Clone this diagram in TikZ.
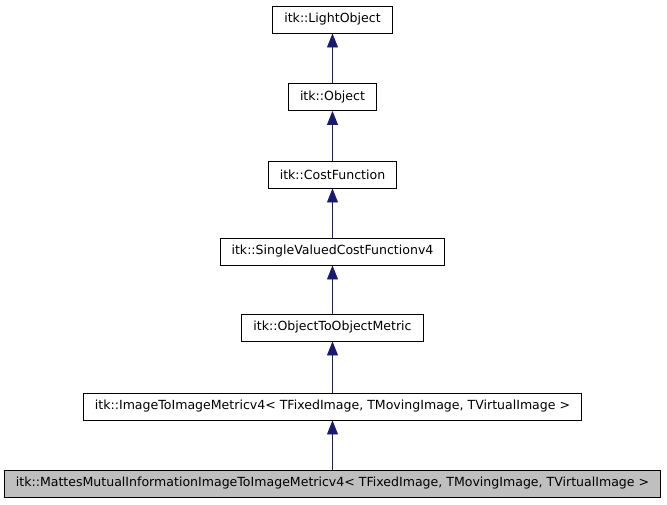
\documentclass[tikz,border=0pt]{standalone}
\usepackage{fontspec}
\setmainfont{DejaVu Sans}
\usetikzlibrary{arrows.meta, positioning}
\definecolor{edgeblue}{HTML}{191970}
\definecolor{classgray}{HTML}{BFBFBF}

\begin{document}
\begin{tikzpicture}[
    x=1pt, y=-1pt,
    font=\fontsize{12.55pt}{14pt}\selectfont,
    % Node styles
    classbox/.style={
        rectangle, draw=black, fill=white, line width=0.9pt,
        minimum height=27pt, inner xsep=11.5pt, inner ysep=0pt,
        align=center
    },
    currentbox/.style={
        classbox, fill=classgray
    },
    inherit/.style={
        draw=edgeblue, line width=0.9pt,
        -{Triangle[length=14pt, width=11pt, fill=edgeblue]}
    },
]

\useasboundingbox (0,0) rectangle (667,504);

%% ---- CLASS HIERARCHY ----
\node[classbox]   (lightobj) at (332.5,  19.5) {itk::LightObject};
\node[classbox]   (object)   at (332.5,  97)   {itk::Object};
\node[classbox]   (costfn)   at (332.5, 174.5) {itk::CostFunction};
\node[classbox]   (svcostfn) at (332.5, 251.5) {itk::SingleValuedCostFunctionv4};
\node[classbox]   (o2ometric) at (332.5, 327.5) {itk::ObjectToObjectMetric};
\node[classbox]   (i2imetric) at (332.5, 406.5)
    {itk::ImageToImageMetricv4< TFixedImage, TMovingImage, TVirtualImage >};
\node[currentbox] (mattes)   at (332.5, 483.5)
    {itk::MattesMutualInformationImageToImageMetricv4< TFixedImage, TMovingImage, TVirtualImage >};

%% ---- ARROWS ----
\draw[inherit] (object)    -- (lightobj);
\draw[inherit] (costfn)    -- (object);
\draw[inherit] (svcostfn)  -- (costfn);
\draw[inherit] (o2ometric) -- (svcostfn);
\draw[inherit] (i2imetric) -- (o2ometric);
\draw[inherit] (mattes)    -- (i2imetric);

\end{tikzpicture}
\end{document}
